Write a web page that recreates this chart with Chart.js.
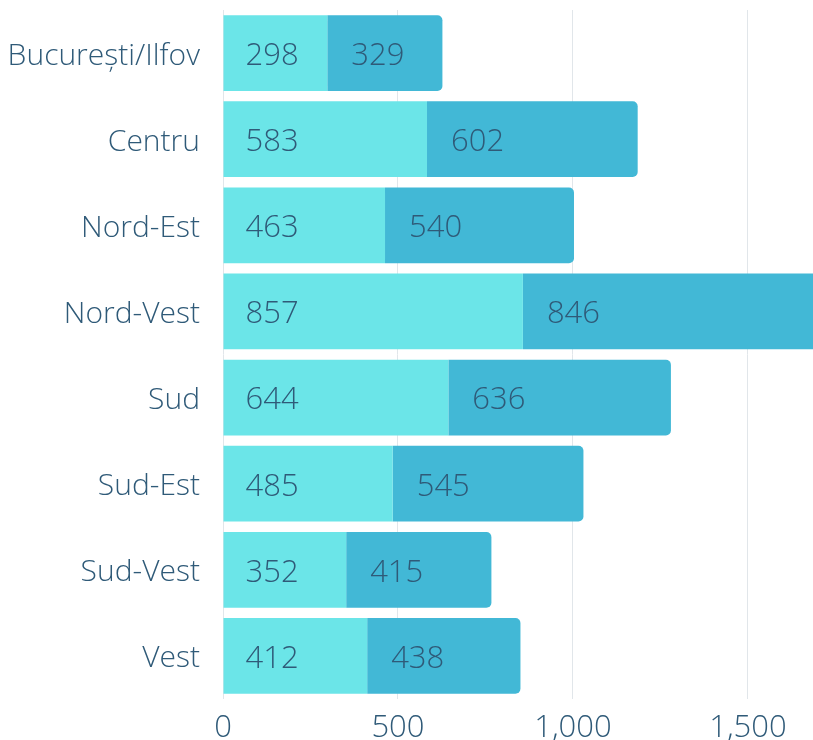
<!DOCTYPE html>
<html>
<head>
<style>
  html, body { margin: 0; padding: 0; background: #fff; }
  #wrap { width: 813px; height: 740px; }
</style>
</head>
<body>
<div id="wrap"><canvas id="myChart"></canvas></div>

<script src="https://cdn.jsdelivr.net/npm/chart.js"></script>
<script>
// data
const regions = ['București/Ilfov', 'Centru', 'Nord-Est', 'Nord-Vest', 'Sud', 'Sud-Est', 'Sud-Vest', 'Vest'];
const firstPart = [298, 583, 463, 857, 644, 485, 352, 412];
const secondPart = [329, 602, 540, 846, 636, 545, 415, 438];
const xTicks = [0, 500, 1000, 1500];

const textColor = '#2f5a78';
const fontFamily = '"Open Sans", sans-serif';

// labels written inside each bar segment, near its left end
const barLabels = {
    id: 'barLabels',
    afterDatasetsDraw(chart) {
        const ctx = chart.ctx;
        const area = chart.chartArea;
        ctx.save();
        ctx.beginPath();
        ctx.rect(area.left, area.top, area.right - area.left, area.bottom - area.top);
        ctx.clip();
        ctx.font = '300 31px ' + fontFamily;
        ctx.fillStyle = textColor;
        ctx.textAlign = 'left';
        ctx.textBaseline = 'middle';
        chart.data.datasets.forEach((ds, i) => {
            let offset = i === 0 ? 22 : 24;
            chart.getDatasetMeta(i).data.forEach((bar, j) => {
                ctx.fillText(ds.data[j].toLocaleString('en-US'), bar.base + offset, bar.y + 3);
            });
        });
        ctx.restore();
    }
};

let ctx = document.getElementById('myChart').getContext('2d');
let chart = new Chart(ctx, {
    type: 'bar',
    data: {
        labels: regions,
        datasets: [{
            data: firstPart,
            backgroundColor: '#6be5e8',
            borderRadius: 0,
            barPercentage: 0.88,
            categoryPercentage: 1
        }, {
            data: secondPart,
            backgroundColor: '#42b8d6',
            borderRadius: 5,
            borderSkipped: 'start',
            barPercentage: 0.88,
            categoryPercentage: 1
        }]
    },
    options: {
        indexAxis: 'y',
        responsive: true,
        maintainAspectRatio: false,
        animation: false,
        layout: { padding: { top: 10, right: 0, bottom: 0, left: 0 } },
        plugins: {
            legend: { display: false },
            tooltip: { enabled: false }
        },
        scales: {
            x: {
                stacked: true,
                min: 0,
                max: 1686,
                afterBuildTicks: (scale) => {
                    scale.ticks = xTicks.map(v => ({ value: v }));
                },
                afterFit: (scale) => {
                    scale.height = 41;
                    scale.paddingLeft = 0;
                    scale.paddingRight = 0;
                },
                grid: { color: '#e1e6ea', lineWidth: 1, drawTicks: false },
                border: { display: false },
                ticks: {
                    padding: 11,
                    color: textColor,
                    font: { family: fontFamily, size: 31, weight: '300' },
                    maxRotation: 0,
                    callback: (v) => v.toLocaleString('en-US')
                }
            },
            y: {
                stacked: true,
                grid: { display: false, drawTicks: false },
                border: { display: false },
                afterFit: (scale) => {
                    scale.width = 223;
                    scale.paddingTop = 0;
                    scale.paddingBottom = 0;
                },
                ticks: {
                    padding: 23,
                    labelOffset: 3,
                    color: textColor,
                    font: { family: fontFamily, size: 30, weight: '300' }
                }
            }
        }
    },
    plugins: [barLabels]
});
</script>
</body>
</html>
